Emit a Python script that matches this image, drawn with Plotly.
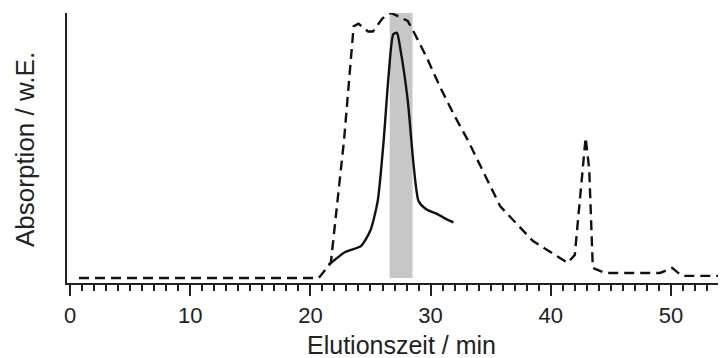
import plotly.graph_objects as go

# Dashed trace (elution time in min, absorption in a.u.)
dashed_x = [0.75, 20.7, 21.7, 22.8, 23.6, 24.0, 24.8, 25.2, 26.0, 26.7, 27.2, 28.1, 28.7,
            29.7, 30.8, 31.9, 33.1, 34.3, 35.8, 38.5, 41.4, 42.0, 42.4, 42.9, 43.2, 43.5,
            44.5, 49.1, 50.1, 50.9, 54.1]
dashed_y = [0.0, 0.0, 0.057, 0.52, 0.95, 0.96, 0.93, 0.93, 0.98, 1.0, 0.99, 0.97, 0.92,
            0.83, 0.72, 0.62, 0.52, 0.41, 0.27, 0.14, 0.057, 0.087, 0.29, 0.53, 0.41, 0.038,
            0.019, 0.019, 0.038, 0.008, 0.008]

# Solid trace
solid_x = [21.5, 22.9, 24.2, 25.0, 25.6, 26.1, 26.5, 26.9, 27.2, 27.5, 28.1, 28.6, 29.0,
           29.6, 30.6, 31.4, 31.9]
solid_y = [0.049, 0.098, 0.12, 0.18, 0.29, 0.52, 0.76, 0.92, 0.925, 0.86, 0.67, 0.42, 0.29,
           0.26, 0.24, 0.22, 0.21]

# Collected fraction (grey band)
band_start = 26.6
band_end = 28.5
band_top = 1.0

x_title = "Elutionszeit / min"
y_title = "Absorption / w.E."

fig = go.Figure()
fig.add_shape(type="rect", x0=band_start, x1=band_end, y0=0, y1=band_top,
              fillcolor="#c6c7c8", line_width=0, layer="below")
fig.add_trace(go.Scatter(x=dashed_x, y=dashed_y, mode="lines",
                         line=dict(color="#111111", width=2.4, dash="10px,6px")))
fig.add_trace(go.Scatter(x=solid_x, y=solid_y, mode="lines",
                         line=dict(color="#111111", width=2.4, shape="spline", smoothing=0.6)))

font_family = "Liberation Sans, Arial, sans-serif"
# The page body has an 8px default margin, so the figure is sized 8px smaller.
fig.add_annotation(text=x_title, xref="paper", yref="paper", x=(401 - 67) / 659, y=-62 / 270,
                   xanchor="center", yanchor="middle", showarrow=False,
                   font=dict(size=25, family=font_family, color="#222222"))
fig.add_annotation(text=y_title, xref="paper", yref="paper", x=(25 - 67) / 659, y=(283 - 150) / 270,
                   xanchor="center", yanchor="middle", showarrow=False, textangle=-90,
                   font=dict(size=26, family=font_family, color="#222222"))

fig.update_layout(
    width=718, height=350,
    margin=dict(l=59, r=0, t=5, b=75),
    plot_bgcolor="white", paper_bgcolor="white",
    showlegend=False,
    font=dict(family=font_family, color="#222222", size=22),
    xaxis=dict(
        range=[-0.25, 54.58], showgrid=False, zeroline=False, automargin=False,
        showline=True, linecolor="#222222", linewidth=2.2,
        ticks="outside", ticklen=11, tickwidth=2, tickcolor="#222222",
        tick0=0, dtick=10, tickfont=dict(size=22),
        minor=dict(dtick=1, ticks="outside", ticklen=6, tickwidth=1.8, tickcolor="#222222"),
    ),
    yaxis=dict(
        range=[-0.019, 1.0], showgrid=False, zeroline=False, automargin=False,
        showline=True, linecolor="#222222", linewidth=2.2,
        showticklabels=False, ticks="",
    ),
)

fig.write_html("out.html")
